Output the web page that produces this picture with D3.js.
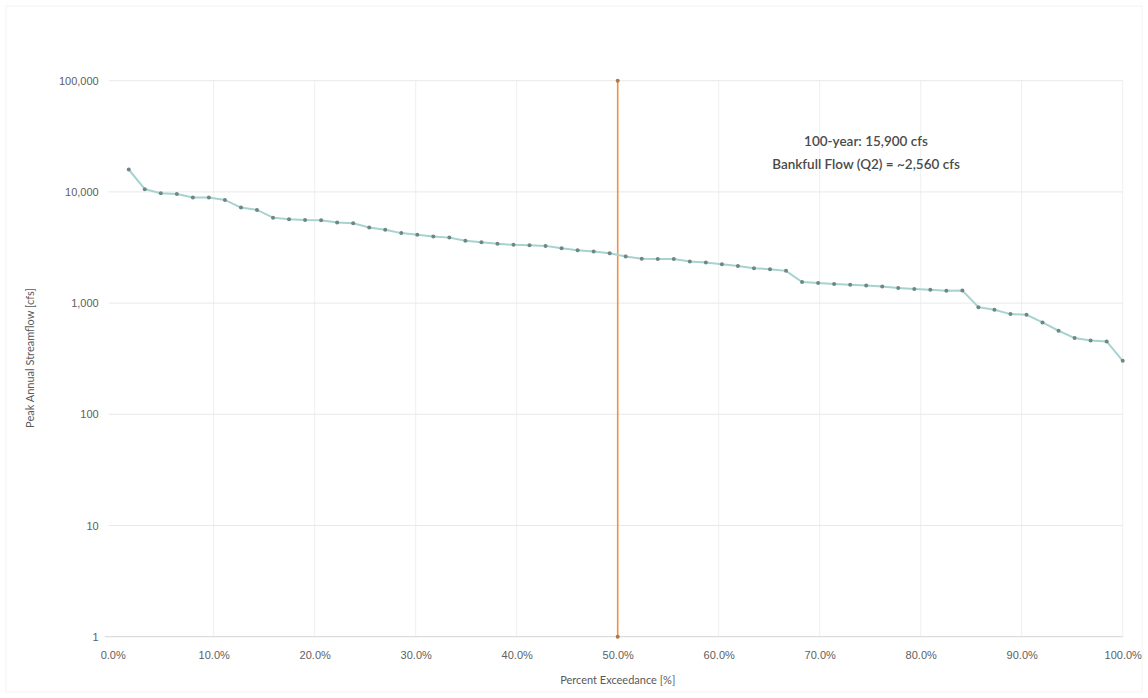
<!DOCTYPE html>
<html>
<head>
<meta charset="utf-8">
<script src="https://cdn.jsdelivr.net/npm/d3@7"></script>
<style>
  body { margin: 0; background: #fff; }
  svg { font-family: Lato, "Open Sans", sans-serif; }
</style>
</head>
<body>
<svg id="chart" width="1148" height="698"></svg>
<script>
// peak annual streamflow, ranked (cfs)
const flows = [15900, 10570, 9730, 9590, 8890, 8890, 8470, 7230, 6890, 5870,
  5690, 5600, 5570, 5300, 5230, 4780, 4560, 4260, 4110, 3970,
  3880, 3630, 3530, 3410, 3340, 3320, 3270, 3120, 2990, 2910,
  2810, 2620, 2500, 2490, 2490, 2370, 2320, 2240, 2160, 2060,
  2020, 1950, 1545, 1513, 1482, 1460, 1439, 1409, 1364, 1340,
  1318, 1291, 1297, 920, 871, 796, 785, 670, 564, 485,
  461, 452, 303];
const bankfullX = [0.5, 0.5];
const bankfullY = [1, 100000];
const yTicks = [1, 10, 100, 1000, 10000, 100000];
const xTicks = [0, 0.1, 0.2, 0.3, 0.4, 0.5, 0.6, 0.7, 0.8, 0.9, 1.0];
const notes = ["100-year: 15,900 cfs", "Bankfull Flow (Q2) = ~2,560 cfs"];

const n = flows.length;
const data = flows.map((v, i) => ({ p: (i + 1) / n, q: v }));

const svg = d3.select("#chart");
const pl = 112.7, pr = 1122.7, pt = 80.7, pb = 636.7;

const x = d3.scaleLinear().domain([0, 1]).range([pl, pr]);
const y = d3.scaleLog().domain([1, 100000]).range([pb, pt]);

// light frame around chart area
svg.append("rect")
  .attr("x", 6).attr("y", 6).attr("width", 1136).attr("height", 686)
  .attr("fill", "none").attr("stroke", "#f4f4f4");

// gridlines
svg.append("g").selectAll("line").data(xTicks.slice(1))
  .join("line")
  .attr("x1", d => x(d)).attr("x2", d => x(d))
  .attr("y1", pt).attr("y2", pb)
  .attr("stroke", "#efefef").attr("stroke-width", 1);

svg.append("g").selectAll("line").data(yTicks.slice(1))
  .join("line")
  .attr("x1", pl - 4).attr("x2", pr)
  .attr("y1", d => y(d)).attr("y2", d => y(d))
  .attr("stroke", "#e9e9e9").attr("stroke-width", 1);

// y axis
const yAxis = d3.axisLeft(y).tickValues(yTicks).tickFormat(d3.format(",")).tickSize(0).tickPadding(14);
svg.append("g").attr("transform", `translate(${pl},0)`).call(yAxis)
  .call(g => g.select(".domain").remove())
  .call(g => g.selectAll("text").attr("fill", "#606060").style("font-size", "11px"));

// x axis
const xAxis = d3.axisBottom(x).tickValues(xTicks).tickFormat(d3.format(".1%")).tickSize(0).tickPadding(15);
svg.append("g").attr("transform", `translate(0,${pb})`).call(xAxis)
  .call(g => g.select(".domain").attr("stroke", "#d4d4d4").attr("d", `M${pl - 8},0H${pr}`))
  .call(g => g.selectAll("text").attr("fill", "#606060").style("font-size", "11px"));

// axis titles
svg.append("text")
  .attr("x", x(0.5)).attr("y", 684)
  .attr("text-anchor", "middle")
  .attr("fill", "#595959").style("font-size", "11px")
  .text("Percent Exceedance [%]");

svg.append("text")
  .attr("transform", "rotate(-90)")
  .attr("x", -358).attr("y", 34)
  .attr("text-anchor", "middle")
  .attr("fill", "#595959").style("font-size", "11px")
  .text("Peak Annual Streamflow [cfs]");

// bankfull vertical line at 50%
const bank = bankfullX.map((d, i) => ({ p: d, q: bankfullY[i] }));
svg.append("path").datum(bank)
  .attr("fill", "none").attr("stroke", "#ef9244").attr("stroke-width", 1.6)
  .attr("d", d3.line().x(d => x(d.p)).y(d => y(d.q)));
svg.append("g").selectAll("circle").data(bank)
  .join("circle")
  .attr("cx", d => x(d.p)).attr("cy", d => y(d.q)).attr("r", 2)
  .attr("fill", "#b07a44");

// flow duration line
svg.append("path").datum(data)
  .attr("fill", "none").attr("stroke", "#a6d3cf").attr("stroke-width", 2)
  .attr("d", d3.line().x(d => x(d.p)).y(d => y(d.q)));

svg.append("g").selectAll("circle").data(data)
  .join("circle")
  .attr("cx", d => x(d.p)).attr("cy", d => y(d.q)).attr("r", 2)
  .attr("fill", "#6f8784");

// annotation
svg.append("text")
  .attr("x", 866).attr("y", 146)
  .attr("text-anchor", "middle")
  .attr("fill", "#4a4a4a").style("font-size", "13.5px").style("font-weight", 600)
  .selectAll("tspan").data(notes)
  .join("tspan")
  .attr("x", 866).attr("dy", (d, i) => i === 0 ? 0 : 23)
  .text(d => d);
</script>
</body>
</html>
